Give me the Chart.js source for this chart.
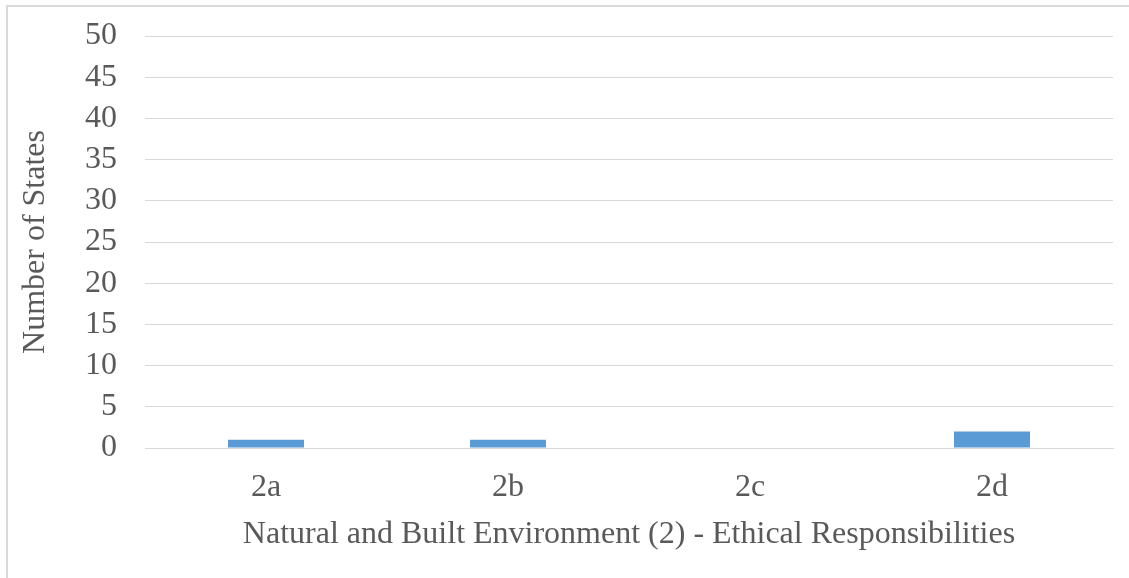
<!DOCTYPE html>
<html>
<head>
<meta charset="utf-8">
<script src="https://cdn.jsdelivr.net/npm/chart.js@4/dist/chart.umd.min.js"></script>
<style>
  html, body { margin: 0; padding: 0; background: #ffffff; }
  #wrap { position: relative; width: 1129px; height: 578px; overflow: hidden; }
  #frame { position: absolute; left: 6px; top: 5px; width: 1200px; height: 700px;
           border-left: 2px solid #d9d9d9; border-top: 2px solid #d9d9d9; box-sizing: border-box; }
  canvas { position: absolute; left: 0; top: 0; }
</style>
</head>
<body>
<div id="wrap">
  <div id="frame"></div>
  <canvas id="chart" width="1129" height="578"></canvas>
</div>
<script>
const categories = ['2a', '2b', '2c', '2d'];
const stateCounts = [1, 1, 0, 2];
const yMin = 0;
const yMax = 50;
const yStep = 5;
const xTitle = 'Natural and Built Environment (2) - Ethical Responsibilities';
const yTitle = 'Number of States';

const serif = "'Liberation Serif', 'Times New Roman', serif";
const textColor = '#595959';
const gridColor = '#d9d9d9';
const fontSize = 32;

new Chart(document.getElementById('chart'), {
  type: 'bar',
  data: {
    labels: categories,
    datasets: [{
      label: yTitle,
      data: stateCounts,
      backgroundColor: '#5b9bd5',
      borderWidth: 0,
      barPercentage: 0.314,
      categoryPercentage: 1.0
    }]
  },
  options: {
    responsive: false,
    animation: false,
    layout: { padding: { top: 36, right: 16, bottom: 0, left: 0 } },
    plugins: {
      legend: { display: false },
      tooltip: { enabled: false }
    },
    scales: {
      x: {
        grid: { display: false, drawTicks: false },
        border: { display: true, color: gridColor, width: 1 },
        ticks: { color: textColor, font: { family: serif, size: fontSize }, padding: 20, autoSkip: false, maxRotation: 0 },
        title: {
          display: true, text: xTitle, color: textColor,
          font: { family: serif, size: fontSize }, padding: { top: 0, bottom: 24 }
        },
        afterFit: (scale) => { scale.height = 130; }
      },
      y: {
        min: yMin, max: yMax,
        grid: { color: gridColor, lineWidth: 1, drawTicks: false },
        border: { display: false },
        ticks: { stepSize: yStep, autoSkip: false, color: textColor, font: { family: serif, size: fontSize }, padding: 28 },
        title: {
          display: true, text: yTitle, color: textColor,
          font: { family: serif, size: fontSize }, padding: { top: 16, bottom: 0 }
        },
        afterFit: (scale) => {
          scale.width = 145;
          scale.paddingTop = 0;
          scale.paddingBottom = 0;
        }
      }
    }
  }
});
</script>
</body>
</html>
